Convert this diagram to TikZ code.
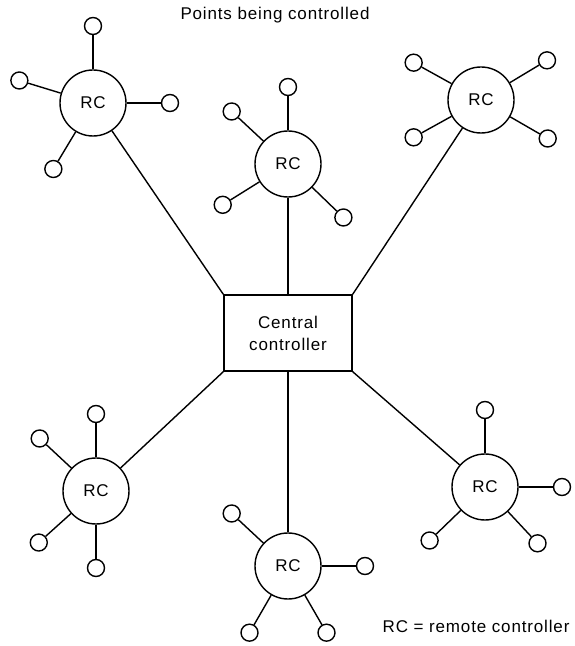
\documentclass[tikz,border=0pt]{standalone}
\usepackage{fontspec}
\setmainfont[LetterSpace=5]{Liberation Sans}
\usetikzlibrary{calc}
\tikzset{
  rc/.style={draw,circle,line width=1.4pt,minimum size=66pt,inner sep=0pt},
  sat/.style={draw,circle,line width=1.4pt,minimum size=17pt,inner sep=0pt},
  ctrlbox/.style={draw,line width=1.4pt,minimum width=128pt,minimum height=76pt,align=center,inner sep=0pt},
  link/.style={line width=1.4pt}
}
\begin{document}
\begin{tikzpicture}[x=1pt,y=1pt,font=\fontsize{17}{22}\selectfont]
\useasboundingbox (0,0) rectangle (575,646);
\node (title) at (275,631) {Points being controlled};
\node[ctrlbox] (cc) at (288,313) {Central\\controller};
% remote controllers and the points round them
\foreach \n/\x/\y/\angs in {rc1/93/543/{90,163,0,239},
                             rc2/288/482/{90,137,212,316},
                             rc3/481/546/{151,31,209,330},
                             rc4/96/155/{90,137,222,270},
                             rc5/288/80/{137,0,240,300},
                             rc6/485/159/{90,0,224,313}}{
  \node[rc] (\n) at (\x,\y) {RC};
  \foreach \a in \angs {
    \node[sat] (\n-\a) at ($(\n)+(\a:77pt)$) {};
    \draw[link] (\n) -- (\n-\a);
  }
}
\draw[link] (rc1) -- (cc.north west);
\draw[link] (rc2) -- (cc.north);
\draw[link] (rc3) -- (cc.north east);
\draw[link] (rc4) -- (cc.south west);
\draw[link] (rc5) -- (cc.south);
\draw[link] (rc6) -- (cc.south east);
\node[anchor=east] (key) at (573,20) {RC = remote controller};
\end{tikzpicture}
\end{document}
